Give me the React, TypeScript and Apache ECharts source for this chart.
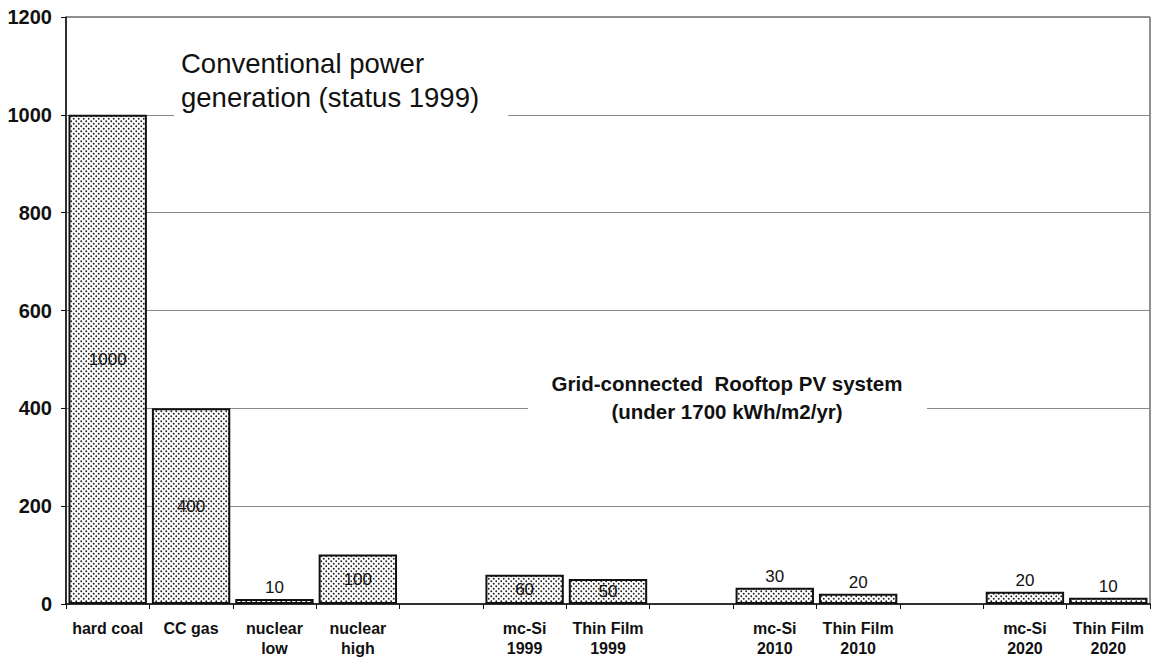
import React, { useEffect, useRef } from "react";
import * as echarts from "echarts";

const categories = [
  "hard coal",
  "CC gas",
  "nuclear\nlow",
  "nuclear\nhigh",
  "",
  "mc-Si\n1999",
  "Thin Film\n1999",
  "",
  "mc-Si\n2010",
  "Thin Film\n2010",
  "",
  "mc-Si\n2020",
  "Thin Film\n2020",
];
const values: (number | null)[] = [1000, 400, 10, 101, null, 60, 51, null, 33, 21, null, 25, 13];
const valueLabels = ["1000", "400", "10", "100", "", "60", "50", "", "30", "20", "", "20", "10"];
const labelInside = [true, true, false, true, false, true, true, false, false, false, false, false, false];
const yTicks = { min: 0, max: 1200, interval: 200 };
const noteConventional = "Conventional power\ngeneration (status 1999)";
const notePV = "Grid-connected  Rooftop PV system\n(under 1700 kWh/m2/yr)";

const FONT = "'Liberation Sans', Arial, Helvetica, sans-serif";

const tileSvg =
  "<svg xmlns='http://www.w3.org/2000/svg' width='5' height='5'>" +
  "<rect width='5' height='5' fill='#ffffff'/>" +
  "<circle cx='1.25' cy='1.25' r='0.95' fill='#222222'/>" +
  "<circle cx='3.75' cy='3.75' r='0.95' fill='#222222'/>" +
  "</svg>";
const tileUrl = "data:image/svg+xml;utf8," + encodeURIComponent(tileSvg);

export default function App() {
  const ref = useRef<HTMLDivElement>(null);

  useEffect(() => {
    if (!ref.current) return;
    const chart = echarts.init(ref.current, undefined, { renderer: "svg" });
    const pattern: any = { image: tileUrl, repeat: "repeat", imageWidth: 5, imageHeight: 5 };

    const data = values.map((v, i) =>
      v == null
        ? "-"
        : {
            value: v,
            label: {
              show: true,
              position: labelInside[i] ? "inside" : "top",
              distance: 3,
              formatter: valueLabels[i],
              color: "#111",
              fontSize: 17,
              fontFamily: FONT,
            },
          }
    );

    chart.setOption({
      animation: false,
      backgroundColor: "#ffffff",
      textStyle: { fontFamily: FONT },
      grid: {
        left: 66,
        right: 2,
        top: 17,
        bottom: 58,
        show: true,
        borderColor: "#222",
        borderWidth: 1,
        containLabel: false,
      },
      xAxis: {
        type: "category",
        data: categories,
        axisLine: { show: true, lineStyle: { color: "#111", width: 1.5 } },
        axisTick: { show: true, interval: 0, length: 5, lineStyle: { color: "#111" } },
        axisLabel: {
          interval: 0,
          margin: 14,
          color: "#111",
          fontSize: 16,
          fontWeight: "bold",
          lineHeight: 20,
          fontFamily: FONT,
        },
        splitLine: { show: false },
      },
      yAxis: {
        type: "value",
        min: yTicks.min,
        max: yTicks.max,
        interval: yTicks.interval,
        axisLine: { show: true, lineStyle: { color: "#111", width: 1.5 } },
        axisTick: { show: true, length: 5, lineStyle: { color: "#111" } },
        axisLabel: {
          margin: 14,
          color: "#111",
          fontSize: 20,
          fontWeight: "bold",
          fontFamily: FONT,
          formatter: (v: number) => String(v),
        },
        splitLine: { show: true, lineStyle: { color: "#8a8a8a", width: 1 } },
      },
      series: [
        {
          type: "bar",
          data,
          barCategoryGap: "6%",
          itemStyle: { color: pattern, borderColor: "#111", borderWidth: 2 },
          emphasis: { disabled: true },
        },
      ],
      graphic: [
        {
          type: "rect",
          z: 10,
          shape: { x: 174, y: 40, width: 334, height: 82 },
          style: { fill: "#ffffff" },
        },
        {
          type: "text",
          z: 11,
          x: 181,
          y: 46,
          style: {
            text: noteConventional,
            fill: "#111",
            font: `27.5px ${FONT}`,
            lineHeight: 34,
            align: "left",
            verticalAlign: "top",
          },
        },
        {
          type: "rect",
          z: 10,
          shape: { x: 528, y: 366, width: 399, height: 62 },
          style: { fill: "#ffffff" },
        },
        {
          type: "text",
          z: 11,
          x: 727,
          y: 369,
          style: {
            text: notePV,
            fill: "#111",
            font: `bold 20.5px ${FONT}`,
            lineHeight: 28,
            align: "center",
            verticalAlign: "top",
          },
        },
      ],
    });

    return () => chart.dispose();
  }, []);

  return (
    <div
      ref={ref}
      style={{ position: "absolute", left: 0, top: 0, width: 1152, height: 662 }}
    />
  );
}
